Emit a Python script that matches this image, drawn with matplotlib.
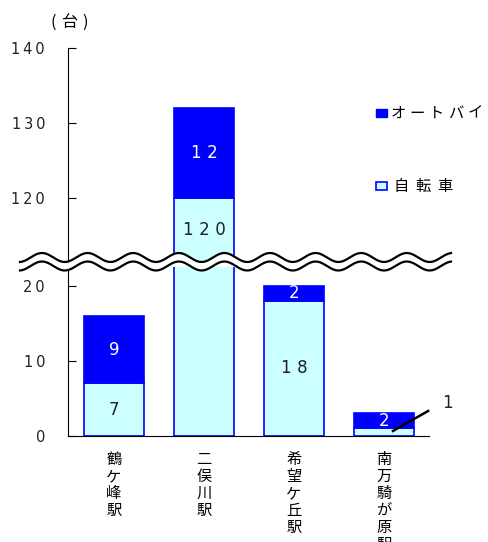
import numpy as np
import matplotlib.pyplot as plt
from matplotlib.patches import Rectangle

plt.rcParams['font.family'] = ['Noto Sans CJK JP', 'DejaVu Sans']

# data
stations = ["鶴\nケ\n峰\n駅", "二\n俣\n川\n駅", "希\n望\nケ\n丘\n駅", "南\n万\n騎\nが\n原\n駅"]
bicycle = [7, 120, 18, 1]     # 自転車
motorbike = [9, 12, 2, 2]     # オートバイ
legend_names = ["オートバイ", "自転車"]
unit = "(台)"

blue = "#0000FF"
cyan = "#CCFFFF"

W, H = 489, 542
fig = plt.figure(figsize=(W / 100, H / 100), dpi=100)

def frac(x0, y0, x1, y1):
    # pixel box (top-left origin) -> figure fraction rect
    return [x0 / W, 1 - y1 / H, (x1 - x0) / W, (y1 - y0) / H]

def spaced(n, sp="\u2004"):
    # the original spreads its digits out
    return sp.join(str(n))

ax_hi = fig.add_axes(frac(68, 48, 429, 262))
ax_lo = fig.add_axes(frac(68, 267, 429, 436))

x = np.arange(len(stations))
for ax in (ax_hi, ax_lo):
    ax.bar(x, bicycle, width=0.667, color=cyan, edgecolor=blue, linewidth=1.2)
    ax.bar(x, motorbike, width=0.667, bottom=bicycle, color=blue, edgecolor=blue, linewidth=1.2)
    ax.set_xlim(-0.51, 3.5)
    ax.spines['top'].set_visible(False)
    ax.spines['right'].set_visible(False)
    ax.tick_params(axis='y', direction='in', length=6, pad=16.5)
    ax.tick_params(axis='x', length=0)

hi_ticks = [120, 130, 140]
lo_ticks = [0, 10, 20]
ax_hi.set_ylim(111.5, 140)
ax_hi.set_yticks(hi_ticks)
ax_hi.set_yticklabels([spaced(v, "\u2009") for v in hi_ticks], family='DejaVu Sans', fontsize=10.5, color='#222222')
ax_hi.spines['bottom'].set_visible(False)
ax_hi.set_xticks([])

ax_lo.set_ylim(0, 22.5)
ax_lo.set_yticks(lo_ticks)
ax_lo.set_yticklabels([spaced(v, "\u2009") for v in lo_ticks], family='DejaVu Sans', fontsize=10.5, color='#222222')
ax_lo.set_xticks(x)
ax_lo.set_xticklabels(stations, fontsize=11, linespacing=1.0, va='top')
ax_lo.tick_params(axis='x', pad=11)

# value labels
lbl = dict(ha='center', va='center', family='DejaVu Sans', fontsize=12)
ax_lo.text(0, bicycle[0] / 2, spaced(bicycle[0]), color='#222222', **lbl)
ax_lo.text(0, bicycle[0] + motorbike[0] / 2, spaced(motorbike[0]), color='white', **lbl)
ax_lo.text(2, bicycle[2] / 2, spaced(bicycle[2]), color='#222222', **lbl)
ax_lo.text(2, bicycle[2] + motorbike[2] / 2, spaced(motorbike[2]), color='white', **lbl)
ax_lo.text(3, bicycle[3] + motorbike[3] / 2, spaced(motorbike[3]), color='white', **lbl)
ax_hi.text(1, 115.8, spaced(bicycle[1]), color='#222222', **lbl)
ax_hi.text(1, bicycle[1] + motorbike[1] / 2, spaced(motorbike[1]), color='white', **lbl)

# leader for the small value
ax_lo.plot([3.1, 3.49], [0.67, 3.33], color='black', lw=1.8, clip_on=False)
ax_lo.text(3.71, 4.4, spaced(bicycle[3]), color='#222222', **lbl)

# unit (characters spread out like the original)
for ch, px in zip(unit, [53, 70, 85]):
    fig.text(px / W, 1 - 22 / H, ch, ha='center', va='center', fontsize=11.5)

# legend
fig.patches.append(Rectangle((376 / W, 1 - 117 / H), 11 / W, 8 / H, transform=fig.transFigure,
                             facecolor=blue, edgecolor=blue, lw=1))
fig.patches.append(Rectangle((376 / W, 1 - 190 / H), 11 / W, 8 / H, transform=fig.transFigure,
                             facecolor=cyan, edgecolor=blue, lw=1.2))
for name, yp, x0, pitch in [(legend_names[0], 113, 398, 19.2), (legend_names[1], 186, 401, 22)]:
    for k, ch in enumerate(name):
        fig.text((x0 + k * pitch) / W, 1 - yp / H, ch, ha='center', va='center', fontsize=11)

# wavy break band
ov = fig.add_axes([0, 0, 1, 1], zorder=10)
ov.set_xlim(0, W)
ov.set_ylim(H, 0)
ov.axis('off')
ov.patch.set_alpha(0)
xs = np.linspace(20, 451, 400)
up = 257.5 - 4.5 * np.cos(2 * np.pi * (xs - 42) / 45.6)
dn = up + 8.5
ov.fill_between(xs, up, dn, color='white', lw=0)
ov.plot(xs, up, color='black', lw=1.6)
ov.plot(xs, dn, color='black', lw=1.6)

fig.savefig("out.png", dpi=100)
